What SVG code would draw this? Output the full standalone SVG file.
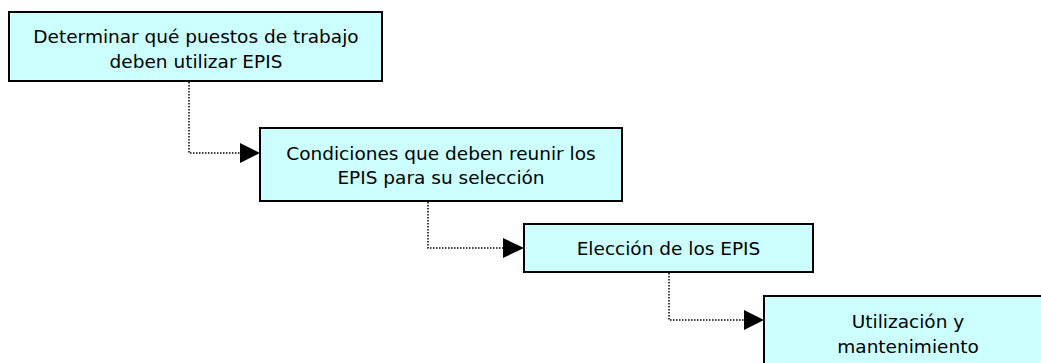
<svg xmlns="http://www.w3.org/2000/svg" width="1041" height="363" viewBox="0 0 1041 363">
<defs>
<style>
.box{fill:#CCFFFF;stroke:#000;stroke-width:2}
.lbl{font-family:"DejaVu Sans",sans-serif;font-size:18.5px;fill:#000;text-anchor:middle}
.con{fill:none;stroke:#000;stroke-width:1.5;stroke-dasharray:1.5 1.5}
.ah{fill:#000}
</style>
</defs>
<rect width="1041" height="363" fill="#fff"/>
<g id="connectors">
<path class="con" d="M189 82 V153 H241"/>
<polygon class="ah" points="240,143 260,153 240,163"/>
<path class="con" d="M428 202 V248 H504"/>
<polygon class="ah" points="503,238 524,248 503,258"/>
<path class="con" d="M669 273 V320 H745"/>
<polygon class="ah" points="744,310 764,320 744,330"/>
</g>
<g id="node1">
<rect class="box" x="9" y="12" width="373" height="69"/>
<text class="lbl" x="196" y="43">Determinar qué puestos de trabajo</text>
<text class="lbl" x="196" y="68">deben utilizar EPIS</text>
</g>
<g id="node2">
<rect class="box" x="260" y="128" width="362" height="73"/>
<text class="lbl" x="441" y="160">Condiciones que deben reunir los</text>
<text class="lbl" x="441" y="184">EPIS para su selección</text>
</g>
<g id="node3">
<rect class="box" x="524" y="224" width="289" height="48"/>
<text class="lbl" x="668.5" y="255">Elección de los EPIS</text>
</g>
<g id="node4">
<rect class="box" x="764" y="296" width="288" height="80"/>
<text class="lbl" x="908" y="328">Utilización y</text>
<text class="lbl" x="908" y="353">mantenimiento</text>
</g>
</svg>
